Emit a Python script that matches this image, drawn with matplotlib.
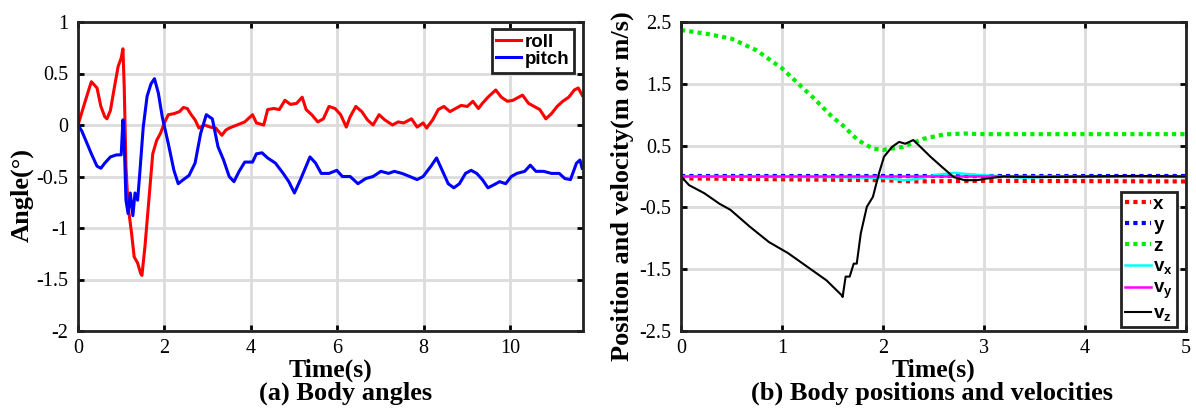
import numpy as np
import matplotlib
matplotlib.use('Agg')
import matplotlib.pyplot as plt

plt.rcParams['font.family'] = 'Liberation Serif'
plt.rcParams['axes.unicode_minus'] = False
plt.rcParams['mathtext.fontset'] = 'custom'
plt.rcParams['mathtext.bf'] = 'Liberation Sans:bold'
plt.rcParams['mathtext.rm'] = 'Liberation Sans:bold'

# ---- (a) body angles, (time, value) ----
roll_pts = [
    (0.00, 0.00), (0.13, 0.18), (0.27, 0.37), (0.31, 0.42), (0.44, 0.36), (0.53, 0.18),
    (0.62, 0.08), (0.67, 0.06), (0.75, 0.14), (0.84, 0.36), (0.93, 0.57), (1.00, 0.65),
    (1.04, 0.74), (1.07, 0.37), (1.11, -0.40), (1.16, -0.79), (1.24, -1.05), (1.30, -1.28),
    (1.38, -1.34), (1.45, -1.44), (1.48, -1.46), (1.55, -1.18), (1.64, -0.73), (1.73, -0.28),
    (1.82, -0.15), (1.91, -0.08), (2.00, 0.02), (2.09, 0.10), (2.22, 0.11), (2.35, 0.13),
    (2.44, 0.17), (2.53, 0.16), (2.62, 0.10), (2.71, 0.05), (2.80, -0.03), (2.93, 0.00),
    (3.06, -0.02), (3.19, -0.03), (3.33, -0.10), (3.42, -0.05), (3.50, -0.03), (3.68, 0.00),
    (3.86, 0.03), (4.04, 0.10), (4.13, 0.02), (4.30, 0.00), (4.39, 0.15), (4.53, 0.16),
    (4.66, 0.15), (4.79, 0.24), (4.92, 0.20), (5.06, 0.21), (5.19, 0.27), (5.28, 0.15),
    (5.41, 0.10), (5.55, 0.03), (5.68, 0.06), (5.81, 0.18), (5.95, 0.16), (6.08, 0.10),
    (6.21, -0.02), (6.30, 0.08), (6.43, 0.18), (6.57, 0.13), (6.70, 0.05), (6.83, 0.00),
    (6.97, 0.10), (7.10, 0.05), (7.28, 0.00), (7.41, 0.03), (7.54, 0.02), (7.72, 0.06),
    (7.85, -0.02), (7.99, 0.02), (8.07, -0.03), (8.21, 0.05), (8.34, 0.15), (8.47, 0.18),
    (8.61, 0.13), (8.74, 0.16), (8.87, 0.19), (9.01, 0.18), (9.14, 0.23), (9.27, 0.16),
    (9.36, 0.21), (9.49, 0.27), (9.67, 0.34), (9.80, 0.27), (9.94, 0.23), (10.07, 0.24),
    (10.20, 0.27), (10.29, 0.29), (10.43, 0.21), (10.56, 0.18), (10.69, 0.15), (10.83, 0.06),
    (10.96, 0.11), (11.09, 0.18), (11.22, 0.23), (11.36, 0.27), (11.49, 0.34), (11.58, 0.36),
    (11.67, 0.29),
]
pitch_pts = [
    (0.00, 0.00), (0.09, -0.06), (0.18, -0.15), (0.31, -0.28), (0.44, -0.40), (0.53, -0.42),
    (0.62, -0.37), (0.75, -0.31), (0.89, -0.29), (1.00, -0.29), (1.04, 0.05), (1.07, -0.15),
    (1.11, -0.73), (1.16, -0.86), (1.21, -0.66), (1.27, -0.88), (1.32, -0.66), (1.38, -0.73),
    (1.43, -0.47), (1.51, -0.02), (1.60, 0.28), (1.69, 0.40), (1.77, 0.45), (1.86, 0.31),
    (1.95, 0.08), (2.09, -0.18), (2.22, -0.44), (2.32, -0.57), (2.44, -0.53), (2.57, -0.49),
    (2.71, -0.37), (2.84, -0.08), (2.97, 0.10), (3.11, 0.06), (3.24, -0.21), (3.37, -0.34),
    (3.50, -0.50), (3.61, -0.55), (3.73, -0.45), (3.86, -0.36), (4.04, -0.36), (4.13, -0.28),
    (4.26, -0.27), (4.39, -0.32), (4.57, -0.37), (4.75, -0.47), (4.88, -0.55), (5.01, -0.66),
    (5.15, -0.53), (5.28, -0.40), (5.37, -0.31), (5.50, -0.37), (5.63, -0.47), (5.81, -0.47),
    (5.99, -0.44), (6.12, -0.50), (6.30, -0.50), (6.48, -0.57), (6.66, -0.52), (6.83, -0.50),
    (7.01, -0.45), (7.19, -0.47), (7.32, -0.45), (7.50, -0.47), (7.68, -0.50), (7.85, -0.53),
    (7.99, -0.50), (8.17, -0.40), (8.30, -0.32), (8.43, -0.44), (8.57, -0.57), (8.70, -0.61),
    (8.83, -0.57), (8.97, -0.47), (9.10, -0.44), (9.23, -0.47), (9.36, -0.53), (9.49, -0.61),
    (9.63, -0.58), (9.76, -0.55), (9.90, -0.57), (10.03, -0.50), (10.16, -0.47), (10.34, -0.45),
    (10.47, -0.39), (10.60, -0.45), (10.78, -0.45), (10.96, -0.47), (11.14, -0.47),
    (11.27, -0.52), (11.40, -0.53), (11.54, -0.37), (11.62, -0.34), (11.67, -0.42),
]

# ---- (b) body positions and velocities ----
z_t = [0.00, 0.25, 0.50, 0.75, 1.00, 1.30, 1.50, 1.60, 1.75, 1.90, 2.00, 2.20, 2.40, 2.60,
       2.80, 3.00, 4.00, 5.00]
z = [2.37, 2.31, 2.23, 2.04, 1.75, 1.29, 0.96, 0.83, 0.59, 0.45, 0.43, 0.48, 0.61, 0.68,
     0.695, 0.685, 0.685, 0.685]

x_t = [0.00, 1.00, 2.00, 2.30, 3.00, 4.00, 5.00]
x_pos = [-0.03, -0.045, -0.06, -0.08, -0.07, -0.075, -0.08]

y_t = [0.00, 5.00]
y_pos = [0.01, 0.01]

vx_t = [0.00, 1.50, 1.90, 2.05, 2.20, 2.35, 2.50, 2.70, 2.90, 3.10, 3.40, 3.70, 5.00]
vx = [0.00, -0.01, -0.02, -0.03, -0.06, -0.04, 0.02, 0.06, 0.03, 0.01, -0.02, 0.00, 0.00]

vy_t = [0.00, 5.00]
vy = [0.00, 0.00]

vz_t = [0.00, 0.08, 0.23, 0.38, 0.49, 0.68, 0.87, 1.06, 1.25, 1.44, 1.59, 1.60, 1.63, 1.67,
        1.71, 1.74, 1.78, 1.84, 1.90, 1.96, 2.01, 2.09, 2.16, 2.22, 2.30, 2.37, 2.47, 2.58,
        2.70, 2.81, 2.93, 3.04, 3.19, 3.50, 4.00, 4.50, 5.00]
vz = [0.00, -0.14, -0.27, -0.44, -0.54, -0.81, -1.06, -1.24, -1.46, -1.68, -1.92, -1.95, -1.62,
      -1.62, -1.41, -1.41, -0.92, -0.49, -0.33, 0.05, 0.32, 0.48, 0.56, 0.53, 0.59, 0.48,
      0.32, 0.16, -0.01, -0.06, -0.06, -0.03, 0.00, -0.01, 0.00, 0.01, 0.00]

roll_t, roll = zip(*roll_pts)
pitch_t, pitch = zip(*pitch_pts)

W, H = 1196, 416
fig = plt.figure(figsize=(W / 100, H / 100), dpi=100)

legend_font = {'family': 'Liberation Sans', 'weight': 'bold', 'size': 13.5}


def style_axes(ax):
    ax.grid(True, color='#dcdcdc', linewidth=2)
    ax.set_axisbelow(True)
    for s in ax.spines.values():
        s.set_linewidth(2)
        s.set_color('#222222')
    ax.tick_params(direction='in', top=True, right=True, length=4, width=2,
                   labelsize=14.5)
    ax.tick_params(axis='y', pad=7)
    ax.tick_params(axis='x', pad=6)


ax1 = fig.add_axes([78 / W, 1 - 331 / H, 505 / W, 309 / H])
ax1.plot(roll_t, roll, color='#ff0000', lw=2.2, label='roll')
ax1.plot(pitch_t, pitch, color='#0000ff', lw=2.2, label='pitch')
ax1.set_xlim(0, 11.69)
ax1.set_ylim(-2, 1)
ax1.set_xticks([0, 2, 4, 6, 8, 10])
ax1.set_yticks([-2, -1.5, -1, -0.5, 0, 0.5, 1])
ax1.set_yticklabels(['-2', '-1.5', '-1', '-0.5', '0', '0.5', '1'])
style_axes(ax1)
ax1.set_xlabel('Time(s)', fontsize=18.5, fontweight='bold', labelpad=0)
ax1.set_ylabel('Angle(°)', fontsize=19, fontweight='bold')
ax1.yaxis.set_label_coords(-0.088, 0.44)
leg1 = ax1.legend(loc='upper right', bbox_to_anchor=(0.982, 0.977), borderaxespad=0,
                  prop=legend_font, fancybox=False, edgecolor='#222222', framealpha=1,
                  borderpad=0.25, handlelength=1.3, handletextpad=0.2, labelspacing=0.0)
leg1.get_frame().set_linewidth(2)

ax2 = fig.add_axes([681 / W, 1 - 331 / H, 505 / W, 309 / H])
ax2.plot(x_t, x_pos, color='#ff0000', lw=3, ls=(0, (1, 1)), label='x')
ax2.plot(y_t, y_pos, color='#0000ff', lw=3, ls=(0, (1, 1)), label='y')
ax2.plot(z_t, z, color='#00ee00', lw=3, ls=(0, (1, 1)), label='z')
ax2.plot(vx_t, vx, color='#00ffff', lw=1.8, label=r'$\mathbf{v_x}$')
ax2.plot(vy_t, vy, color='#ff00ff', lw=1.8, label=r'$\mathbf{v_y}$')
ax2.plot(vz_t, vz, color='black', lw=1.5, label=r'$\mathbf{v_z}$')
ax2.set_xlim(0, 5)
ax2.set_ylim(-2.5, 2.5)
ax2.set_yticks([-2.5, -1.5, -0.5, 0.5, 1.5, 2.5])
ax2.set_yticklabels(['-2.5', '-1.5', '-0.5', '0.5', '1.5', '2.5'])
style_axes(ax2)
ax2.set_xlabel('Time(s)', fontsize=18.5, fontweight='bold', labelpad=0)
ax2.set_ylabel('Position and velocity(m or m/s)', fontsize=19, fontweight='bold')
ax2.yaxis.set_label_coords(-0.093, 0.47)
leg2 = ax2.legend(loc='lower right', bbox_to_anchor=(0.982, 0.013), borderaxespad=0,
                  prop=legend_font, fancybox=False, edgecolor='#222222', framealpha=1,
                  borderpad=0.2, handlelength=1.35, handletextpad=0.15, labelspacing=0.2)
leg2.get_frame().set_linewidth(2)

fig.text(346 / W, 1 - 393 / H, '(a) Body angles', ha='center', va='center',
         fontsize=19, fontweight='bold')
fig.text(932 / W, 1 - 393 / H, '(b) Body positions and velocities', ha='center', va='center',
         fontsize=19, fontweight='bold')

fig.savefig('out.png', dpi=100)
